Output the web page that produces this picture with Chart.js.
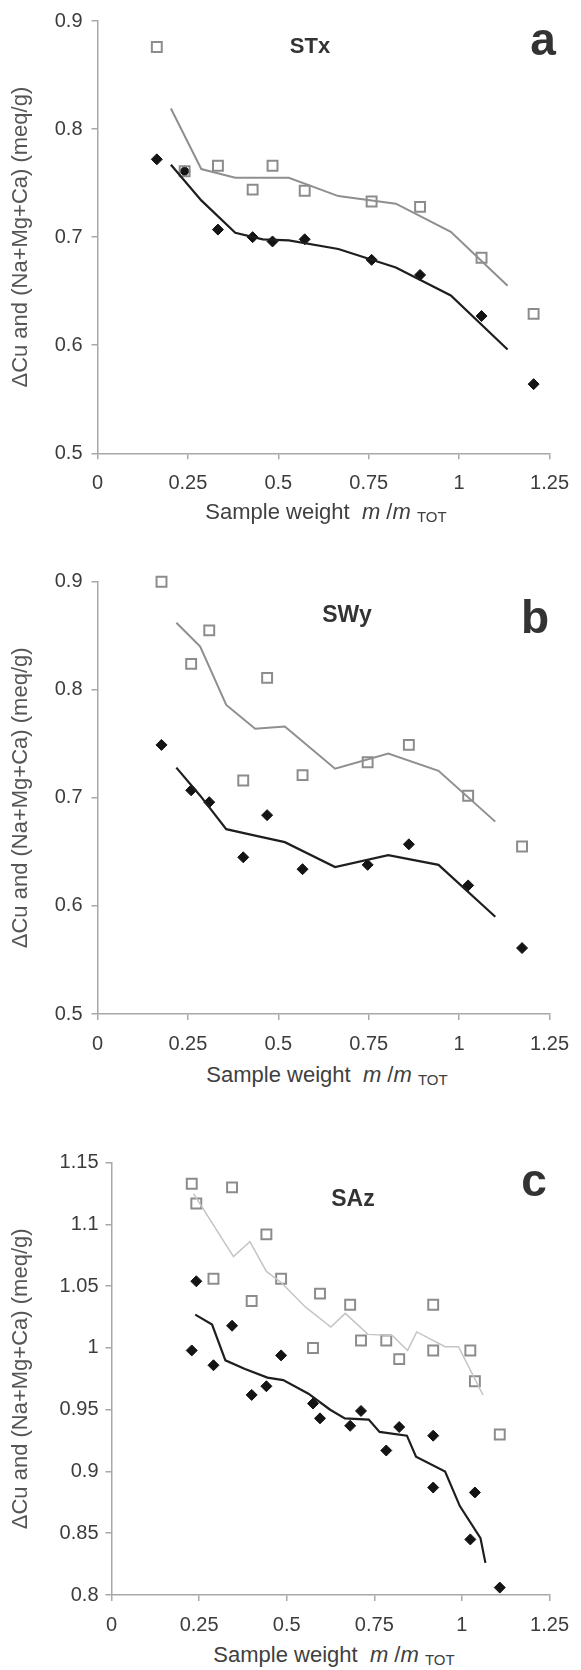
<!DOCTYPE html>
<html>
<head>
<meta charset="utf-8">
<title>Cu exchange vs sample weight</title>
<script src="https://cdn.jsdelivr.net/npm/chart.js@4.4.1/dist/chart.umd.min.js"></script>
<style>
  body { margin: 0; background: #fff; }
  #page { position: relative; width: 581px; height: 1670px; overflow: hidden;
          font-family: 'Liberation Sans', Arial, Helvetica, sans-serif; }
  canvas { position: absolute; left: 0; }
  .lbl { position: absolute; color: #333; white-space: nowrap; line-height: 1;
         transform: translate(-50%, -50%); }
  .xtitle { position: absolute; font-size: 22px; color: #404040; white-space: nowrap;
            line-height: 1; transform: translate(-50%, -50%); }
  .xtitle .sub { font-size: 15px; position: relative; top: 3px; }
</style>
</head>
<body>
<div id="page">
  <canvas id="chartSTx" width="581" height="500" style="top:0px"></canvas>
  <canvas id="chartSWy" width="581" height="500" style="top:560px"></canvas>
  <canvas id="chartSAz" width="581" height="500" style="top:1140px"></canvas>

  <div class="lbl" style="left:310px; top:46px; font-weight:bold; font-size:22px;">STx</div>
  <div class="lbl" style="left:543px; top:39px; font-weight:bold; font-size:46px;">a</div>
  <div class="lbl" style="left:347px; top:614px; font-weight:bold; font-size:23px;">SWy</div>
  <div class="lbl" style="left:535px; top:617px; font-weight:bold; font-size:46px;">b</div>
  <div class="lbl" style="left:353px; top:1198px; font-weight:bold; font-size:23px;">SAz</div>
  <div class="lbl" style="left:534px; top:1180px; font-weight:bold; font-size:46px;">c</div>

  <div class="xtitle" style="left:326px; top:512px;">Sample weight&nbsp; <i>m</i> /<i>m</i> <span class="sub">TOT</span></div>
  <div class="xtitle" style="left:327px; top:1075px;">Sample weight&nbsp; <i>m</i> /<i>m</i> <span class="sub">TOT</span></div>
  <div class="xtitle" style="left:334px; top:1655px;">Sample weight&nbsp; <i>m</i> /<i>m</i> <span class="sub">TOT</span></div>
</div>

<script>
// ---- data ----
// x = m / m_TOT, open squares = grey series, filled diamonds = black series

// STx (a)
var stxX = [0.164, 0.241, 0.333, 0.429, 0.484, 0.573, 0.758, 0.892, 1.062, 1.206];
var stxSquares = [0.876, 0.761, 0.766, 0.744, 0.766, 0.743, 0.733, 0.728, 0.681, 0.629];
var stxDiamonds = [0.772, 0.761, 0.707, 0.700, 0.696, 0.698, 0.679, 0.665, 0.627, 0.564];
var stxTrendX = [0.203, 0.287, 0.381, 0.457, 0.529, 0.666, 0.825, 0.977, 1.134];
var stxSquareTrend = [0.819, 0.763, 0.755, 0.755, 0.755, 0.738, 0.731, 0.705, 0.655];
var stxDiamondTrend = [0.767, 0.734, 0.704, 0.698, 0.697, 0.689, 0.672, 0.646, 0.596];

// SWy (b)
var swyX = [0.177, 0.259, 0.309, 0.403, 0.469, 0.567, 0.747, 0.861, 1.025, 1.174];
var swySquares = [0.900, 0.824, 0.855, 0.716, 0.811, 0.721, 0.733, 0.749, 0.702, 0.655];
var swyDiamonds = [0.749, 0.707, 0.696, 0.645, 0.684, 0.634, 0.638, 0.657, 0.619, 0.561];
var swyTrendX = [0.218, 0.284, 0.356, 0.436, 0.518, 0.657, 0.804, 0.943, 1.100];
var swySquareTrend = [0.862, 0.840, 0.786, 0.764, 0.766, 0.727, 0.741, 0.725, 0.678];
var swyDiamondTrend = [0.728, 0.702, 0.671, 0.665, 0.659, 0.636, 0.647, 0.638, 0.590];

// SAz (c)
var sazX = [0.229, 0.242, 0.291, 0.344, 0.400, 0.442, 0.484, 0.575, 0.595,
            0.681, 0.712, 0.784, 0.821, 0.918, 0.918, 1.024, 1.037, 1.108];
var sazSquares = [1.133, 1.117, 1.056, 1.130, 1.038, 1.092, 1.056, 1.000, 1.044,
                  1.035, 1.006, 1.006, 0.991, 1.035, 0.998, 0.998, 0.973, 0.930];
var sazDiamonds = [0.998, 1.054, 0.986, 1.018, 0.962, 0.969, 0.994, 0.955, 0.943,
                   0.937, 0.949, 0.917, 0.936, 0.929, 0.887, 0.845, 0.883, 0.806];
var sazSquareTrendX = [0.234, 0.348, 0.395, 0.442, 0.484, 0.554, 0.626, 0.667,
                       0.732, 0.802, 0.845, 0.871, 0.952, 0.990, 1.060];
var sazSquareTrend = [1.125, 1.074, 1.086, 1.062, 1.053, 1.033, 1.017, 1.028,
                      1.011, 1.010, 0.998, 1.013, 1.001, 1.001, 0.962];
var sazDiamondTrendX = [0.239, 0.287, 0.325, 0.381, 0.445, 0.490, 0.562, 0.624, 0.666,
                        0.734, 0.765, 0.843, 0.869, 0.952, 0.994, 1.053, 1.067];
var sazDiamondTrend = [1.027, 1.019, 0.990, 0.983, 0.976, 0.974, 0.963, 0.950, 0.943,
                       0.942, 0.932, 0.929, 0.912, 0.900, 0.872, 0.846, 0.826];

// axis ticks
var xTicks = { min: 0, max: 1.25, step: 0.25 };
var yTicksAB = { min: 0.5, max: 0.9, step: 0.1 };
var yTicksC = { min: 0.8, max: 1.15, step: 0.05 };

var yTitle = '\u0394Cu and (Na+Mg+Ca) (meq/g)';
var CANVAS_H = 500;
var AXIS_GREY = '#a8a8a8';

Chart.defaults.font.family = "'Liberation Sans', Arial, Helvetica, sans-serif";

function points(xs, ys) {
    return xs.map((x, i) => ({ x: x, y: ys[i] }));
}

// 0.25 -> "0.25", 1.00 -> "1" (same as the original axis labels)
function tickText(value) {
    return String(Math.round(value * 100) / 100);
}

function renderPanel(p) {
    return new Chart(p.id, {
        type: 'scatter',
        data: {
            datasets: [{
                label: 'grey trend',
                data: points(p.sqTrendX, p.sqTrend),
                showLine: true,
                borderColor: p.greyLine,
                borderWidth: p.greyWidth,
                pointRadius: 0
            }, {
                label: 'black trend',
                data: points(p.diaTrendX, p.diaTrend),
                showLine: true,
                borderColor: '#1e1e1e',
                borderWidth: 2.2,
                pointRadius: 0
            }, {
                label: 'squares',
                data: points(p.x, p.squares),
                pointStyle: 'rect',
                pointRadius: 7,
                borderColor: '#8c8c8c',
                borderWidth: 2,
                backgroundColor: 'rgba(255,255,255,0)',
                clip: 12
            }, {
                label: 'diamonds',
                data: points(p.x, p.diamonds),
                pointStyle: 'rectRot',
                pointRadius: 5.5,
                borderColor: '#141414',
                borderWidth: 1,
                backgroundColor: '#141414',
                clip: 12
            }]
        },
        options: {
            responsive: false,
            animation: false,
            devicePixelRatio: 1,
            layout: {
                padding: { top: p.area.top, right: 581 - p.area.right, bottom: 0, left: 0 }
            },
            plugins: {
                legend: { display: false },
                tooltip: { enabled: false }
            },
            scales: {
                x: {
                    type: 'linear',
                    min: xTicks.min,
                    max: xTicks.max,
                    ticks: { stepSize: xTicks.step, padding: 12, color: '#3c3c3c', font: { size: 20 },
                             maxRotation: 0, autoSkip: false, callback: tickText },
                    grid: { drawOnChartArea: false, tickLength: 6, color: AXIS_GREY, lineWidth: 1.5 },
                    border: { color: AXIS_GREY, width: 1.5 },
                    afterFit: (scale) => { scale.height = CANVAS_H - p.area.bottom; }
                },
                y: {
                    type: 'linear',
                    min: p.yTicks.min,
                    max: p.yTicks.max,
                    ticks: { stepSize: p.yTicks.step, padding: p.yPad, color: '#3c3c3c', font: { size: 20 },
                             autoSkip: false, callback: tickText },
                    grid: { drawOnChartArea: false, tickLength: 6, color: AXIS_GREY, lineWidth: 1.5 },
                    border: { color: AXIS_GREY, width: 1.5 },
                    title: { display: true, text: yTitle, color: '#555', font: { size: 22 }, padding: { top: 8, bottom: 0 } },
                    afterFit: (scale) => { scale.width = p.area.left; }
                }
            }
        }
    });
}

renderPanel({
    id: 'chartSTx', area: { top: 20.7, bottom: 453.3, left: 97.5, right: 555 },
    yTicks: yTicksAB, yPad: 9, greyLine: '#8f8f8f', greyWidth: 2,
    x: stxX, squares: stxSquares, diamonds: stxDiamonds,
    sqTrendX: stxTrendX, sqTrend: stxSquareTrend, diaTrendX: stxTrendX, diaTrend: stxDiamondTrend
});

renderPanel({
    id: 'chartSWy', area: { top: 21.7, bottom: 454, left: 97.5, right: 556 },
    yTicks: yTicksAB, yPad: 9, greyLine: '#8f8f8f', greyWidth: 2,
    x: swyX, squares: swySquares, diamonds: swyDiamonds,
    sqTrendX: swyTrendX, sqTrend: swySquareTrend, diaTrendX: swyTrendX, diaTrend: swyDiamondTrend
});

renderPanel({
    id: 'chartSAz', area: { top: 22.7, bottom: 455, left: 111.5, right: 556 },
    yTicks: yTicksC, yPad: 7, greyLine: '#c4c4c4', greyWidth: 1.5,
    x: sazX, squares: sazSquares, diamonds: sazDiamonds,
    sqTrendX: sazSquareTrendX, sqTrend: sazSquareTrend, diaTrendX: sazDiamondTrendX, diaTrend: sazDiamondTrend
});
</script>
</body>
</html>
